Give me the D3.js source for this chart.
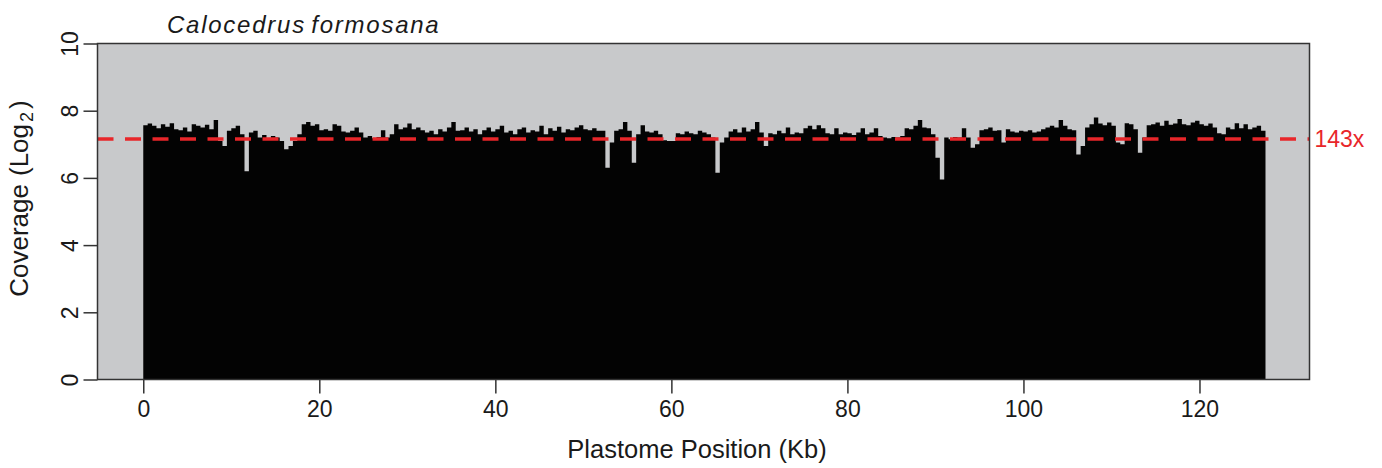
<!doctype html>
<html lang="en">
  <head>
    <meta charset="UTF-8" />
    <title>Plastome coverage</title>
    <script src="https://d3js.org/d3.v7.min.js"></script>
    <style>
      body {
        margin: 0;
        background: #fff;
      }
      text {
        font-family: 'Liberation Sans', Arial, sans-serif;
        fill: #1a1a1a;
      }
      .axis path,
      .axis line {
        fill: none;
        stroke: #333;
        stroke-width: 1.5;
      }
    </style>
  </head>
  <body>
    <div id="chart"></div>
    <script>
      // log2 coverage in 0.5 kb windows
      const binSize = 0.5;
      const cov0to20 = [
        7.57, 7.62, 7.55, 7.48, 7.6, 7.52, 7.63, 7.45, 7.42, 7.5,
        7.38, 7.6, 7.55, 7.5, 7.58, 7.45, 7.72, 7.1, 6.95, 7.4,
        7.48, 7.55, 7.3, 6.2, 7.35, 7.4, 7.2, 7.28, 7.18, 7.25,
        7.2, 7.1, 6.85, 6.95, 7.1, 7.3, 7.6, 7.66, 7.55, 7.6,
      ];
      const cov20to40 = [
        7.42, 7.45, 7.4, 7.6, 7.55, 7.38, 7.35, 7.4, 7.5, 7.35,
        7.2, 7.25, 7.18, 7.22, 7.42, 7.2, 7.3, 7.6, 7.45, 7.5,
        7.62, 7.45, 7.5, 7.42, 7.35, 7.4, 7.3, 7.45, 7.38, 7.5,
        7.66, 7.4, 7.42, 7.5, 7.38, 7.45, 7.3, 7.42, 7.5, 7.38,
      ];
      const cov40to60 = [
        7.45, 7.55, 7.35, 7.4, 7.3, 7.45, 7.5, 7.35, 7.42, 7.38,
        7.55, 7.3, 7.48, 7.4, 7.52, 7.35, 7.45, 7.42, 7.5, 7.57,
        7.45, 7.42, 7.48, 7.4, 7.4, 6.3, 7.05, 7.4, 7.45, 7.66,
        7.4, 6.45, 7.3, 7.57, 7.38, 7.35, 7.4, 7.3, 7.12, 7.1,
      ];
      const cov60to80 = [
        7.1, 7.33, 7.3, 7.38, 7.33, 7.3, 7.4, 7.35, 7.3, 7.2,
        6.15, 7.05, 7.2, 7.38, 7.45, 7.35, 7.5, 7.38, 7.45, 7.66,
        7.35, 6.95, 7.33, 7.3, 7.4, 7.33, 7.5, 7.3, 7.35, 7.33,
        7.48, 7.55, 7.45, 7.57, 7.48, 7.33, 7.3, 7.48, 7.3, 7.35,
      ];
      const cov80to100 = [
        7.33, 7.28, 7.35, 7.48, 7.3, 7.35, 7.48, 7.25, 7.2, 7.18,
        7.22, 7.2, 7.25, 7.48, 7.45, 7.55, 7.72, 7.5, 7.48, 7.3,
        6.6, 5.95, 7.2, 7.15, 7.22, 7.2, 7.48, 7.2, 6.9, 7.0,
        7.42, 7.45, 7.5, 7.4, 7.42, 7.05, 7.45, 7.38, 7.35, 7.4,
      ];
      const cov100to120 = [
        7.38, 7.42, 7.35, 7.38, 7.45, 7.5, 7.55, 7.5, 7.72, 7.55,
        7.45, 7.42, 6.7, 6.95, 7.5, 7.6, 7.8, 7.62, 7.57, 7.65,
        7.55, 7.05, 7.0, 7.63, 7.6, 7.45, 6.75, 7.2, 7.57, 7.6,
        7.65, 7.55, 7.7, 7.58, 7.62, 7.75, 7.6, 7.57, 7.65, 7.7,
      ];
      const cov120toEnd = [
        7.6, 7.55, 7.62, 7.5, 7.33, 7.3, 7.5, 7.45, 7.63, 7.48,
        7.6, 7.45, 7.5, 7.55, 7.4,
      ];
      const meanCoverage = 143;
      const xTicks = [0, 20, 40, 60, 80, 100, 120];
      const yTicks = [0, 2, 4, 6, 8, 10];

      const coverage = [].concat(
        cov0to20, cov20to40, cov40to60, cov60to80,
        cov80to100, cov100to120, cov120toEnd,
      );
      const points = coverage.map((v, i) => ({ pos: i * binSize, v: v }));
      // closing point so the last window keeps its width
      points.push({
        pos: coverage.length * binSize,
        v: coverage[coverage.length - 1],
      });

      const W = 1382;
      const H = 468;
      const box = { left: 97.5, right: 1309.5, top: 43.5, bottom: 379.5 };

      const svg = d3
        .select('#chart')
        .append('svg')
        .attr('width', W)
        .attr('height', H);

      const x = d3
        .scaleLinear()
        .domain([-5.2, 132.5])
        .range([box.left, box.right]);
      const y = d3
        .scaleLinear()
        .domain([0, 10])
        .range([box.bottom, box.top]);

      // plot background
      svg
        .append('rect')
        .attr('x', box.left)
        .attr('y', box.top)
        .attr('width', box.right - box.left)
        .attr('height', box.bottom - box.top)
        .attr('fill', '#c8c9cb');

      // coverage profile
      const area = d3
        .area()
        .x((d) => x(d.pos))
        .y0(y(0))
        .y1((d) => y(d.v))
        .curve(d3.curveStepAfter);
      svg
        .append('path')
        .datum(points)
        .attr('d', area)
        .attr('fill', '#030303');

      // mean coverage line
      const meanY = y(Math.log2(meanCoverage));
      svg
        .append('line')
        .attr('x1', box.left)
        .attr('x2', box.right)
        .attr('y1', meanY)
        .attr('y2', meanY)
        .attr('stroke', '#e8262a')
        .attr('stroke-width', 3.5)
        .attr('stroke-dasharray', '16,11.5');
      svg
        .append('text')
        .attr('x', box.right + 5)
        .attr('y', meanY + 8.5)
        .style('font-size', '23px')
        .style('fill', '#e8262a')
        .text(meanCoverage + 'x');

      // frame
      svg
        .append('rect')
        .attr('x', box.left)
        .attr('y', box.top)
        .attr('width', box.right - box.left)
        .attr('height', box.bottom - box.top)
        .attr('fill', 'none')
        .attr('stroke', '#333')
        .attr('stroke-width', 1.5);

      // x axis
      const gx = svg
        .append('g')
        .attr('class', 'axis')
        .attr('transform', 'translate(0,' + box.bottom + ')')
        .call(
          d3.axisBottom(x).tickValues(xTicks).tickSize(14).tickSizeOuter(0),
        );
      gx.select('.domain').remove();
      gx.selectAll('text')
        .attr('y', 37.5)
        .attr('dy', 0)
        .style('font-size', '23px')
        .style('fill', '#1a1a1a');

      // y axis, labels parallel to the axis
      const gy = svg
        .append('g')
        .attr('class', 'axis')
        .attr('transform', 'translate(' + box.left + ',0)')
        .call(
          d3.axisLeft(y).tickValues(yTicks).tickSize(14).tickSizeOuter(0),
        );
      gy.select('.domain').remove();
      gy.selectAll('text')
        .attr('x', 0)
        .attr('y', -19.5)
        .attr('dy', 0)
        .attr('transform', 'rotate(-90)')
        .style('text-anchor', 'middle')
        .style('font-size', '23px')
        .style('fill', '#1a1a1a');

      // title
      svg
        .append('text')
        .attr('x', 167)
        .attr('y', 32.5)
        .style('font-size', '24px')
        .style('font-style', 'italic')
        .style('letter-spacing', '1.75px')
        .style('word-spacing', '-3px')
        .text('Calocedrus formosana');

      // axis titles
      svg
        .append('text')
        .attr('x', 697)
        .attr('y', 458)
        .attr('text-anchor', 'middle')
        .style('font-size', '25.5px')
        .text('Plastome Position (Kb)');

      const ylab = svg
        .append('text')
        .attr('transform', 'translate(28,198.5) rotate(-90)')
        .attr('text-anchor', 'middle')
        .style('font-size', '26px');
      ylab.append('tspan').text('Coverage');
      ylab.append('tspan').attr('dx', 8).text('(Log');
      ylab
        .append('tspan')
        .attr('dx', 2)
        .attr('dy', 5)
        .style('font-size', '18px')
        .text('2');
      ylab.append('tspan').attr('dx', 3).attr('dy', -5).text(')');
    </script>
  </body>
</html>
